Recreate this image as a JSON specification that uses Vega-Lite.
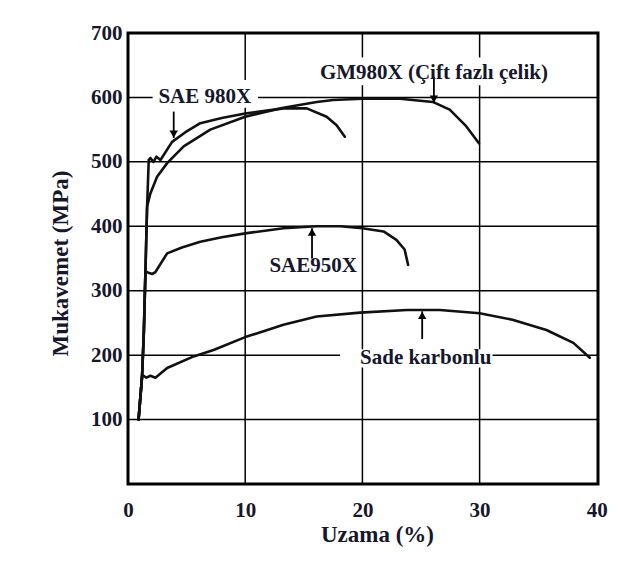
{
  "$schema": "https://vega.github.io/schema/vega-lite/v6.json",
  "width": 470,
  "height": 451,
  "autosize": {"type": "none"},
  "padding": {"left": 128, "top": 33, "right": 41, "bottom": 102},
  "background": "white",
  "config": {
    "view": {"stroke": "black", "strokeWidth": 3},
    "font": "Liberation Serif"
  },
  "datasets": {
    "gridx": [{"x": 10}, {"x": 20}, {"x": 30}],
    "gridy": [{"y": 100}, {"y": 200}, {"y": 300}, {"y": 400}, {"y": 500}, {"y": 600}],
    "curves": [
      {"steel": "GM980X", "x": 0.9, "y": 100}, {"steel": "GM980X", "x": 1.2, "y": 167}, {"steel": "GM980X", "x": 1.35, "y": 235}, {"steel": "GM980X", "x": 1.49, "y": 332}, {"steel": "GM980X", "x": 1.63, "y": 431}, {"steel": "GM980X", "x": 1.91, "y": 451}, {"steel": "GM980X", "x": 2.48, "y": 477}, {"steel": "GM980X", "x": 3.34, "y": 498}, {"steel": "GM980X", "x": 4.75, "y": 524}, {"steel": "GM980X", "x": 7.02, "y": 550}, {"steel": "GM980X", "x": 10, "y": 570}, {"steel": "GM980X", "x": 13.26, "y": 584}, {"steel": "GM980X", "x": 16.1, "y": 593}, {"steel": "GM980X", "x": 17.5, "y": 596}, {"steel": "GM980X", "x": 20, "y": 598}, {"steel": "GM980X", "x": 23.2, "y": 598}, {"steel": "GM980X", "x": 26.0, "y": 593}, {"steel": "GM980X", "x": 27.45, "y": 581}, {"steel": "GM980X", "x": 28.87, "y": 555}, {"steel": "GM980X", "x": 29.94, "y": 529},
      {"steel": "SAE 980X", "x": 0.9, "y": 100}, {"steel": "SAE 980X", "x": 1.2, "y": 167}, {"steel": "SAE 980X", "x": 1.35, "y": 235}, {"steel": "SAE 980X", "x": 1.49, "y": 332}, {"steel": "SAE 980X", "x": 1.63, "y": 431}, {"steel": "SAE 980X", "x": 1.77, "y": 503}, {"steel": "SAE 980X", "x": 1.91, "y": 506}, {"steel": "SAE 980X", "x": 2.17, "y": 500}, {"steel": "SAE 980X", "x": 2.43, "y": 508}, {"steel": "SAE 980X", "x": 2.77, "y": 503}, {"steel": "SAE 980X", "x": 3.76, "y": 531}, {"steel": "SAE 980X", "x": 4.9, "y": 546}, {"steel": "SAE 980X", "x": 6.17, "y": 560}, {"steel": "SAE 980X", "x": 8, "y": 568}, {"steel": "SAE 980X", "x": 10, "y": 575}, {"steel": "SAE 980X", "x": 13.26, "y": 583}, {"steel": "SAE 980X", "x": 15.25, "y": 583}, {"steel": "SAE 980X", "x": 16.95, "y": 570}, {"steel": "SAE 980X", "x": 17.8, "y": 557}, {"steel": "SAE 980X", "x": 18.5, "y": 539},
      {"steel": "SAE950X", "x": 0.9, "y": 100}, {"steel": "SAE950X", "x": 1.2, "y": 167}, {"steel": "SAE950X", "x": 1.35, "y": 235}, {"steel": "SAE950X", "x": 1.49, "y": 330}, {"steel": "SAE950X", "x": 1.74, "y": 328}, {"steel": "SAE950X", "x": 2.08, "y": 326}, {"steel": "SAE950X", "x": 2.34, "y": 329}, {"steel": "SAE950X", "x": 3.34, "y": 358}, {"steel": "SAE950X", "x": 4.6, "y": 367}, {"steel": "SAE950X", "x": 6.17, "y": 376}, {"steel": "SAE950X", "x": 8, "y": 383}, {"steel": "SAE950X", "x": 10, "y": 389}, {"steel": "SAE950X", "x": 13.26, "y": 397}, {"steel": "SAE950X", "x": 16.1, "y": 400}, {"steel": "SAE950X", "x": 18.1, "y": 400}, {"steel": "SAE950X", "x": 20, "y": 397}, {"steel": "SAE950X", "x": 21.8, "y": 392}, {"steel": "SAE950X", "x": 22.9, "y": 379}, {"steel": "SAE950X", "x": 23.6, "y": 364}, {"steel": "SAE950X", "x": 23.9, "y": 340},
      {"steel": "Sade karbonlu", "x": 0.9, "y": 100}, {"steel": "Sade karbonlu", "x": 1.2, "y": 167}, {"steel": "Sade karbonlu", "x": 1.32, "y": 168}, {"steel": "Sade karbonlu", "x": 1.57, "y": 165}, {"steel": "Sade karbonlu", "x": 1.91, "y": 168}, {"steel": "Sade karbonlu", "x": 2.34, "y": 165}, {"steel": "Sade karbonlu", "x": 3.34, "y": 180}, {"steel": "Sade karbonlu", "x": 5.6, "y": 198}, {"steel": "Sade karbonlu", "x": 7.3, "y": 208}, {"steel": "Sade karbonlu", "x": 10, "y": 228}, {"steel": "Sade karbonlu", "x": 13.26, "y": 247}, {"steel": "Sade karbonlu", "x": 16.1, "y": 260}, {"steel": "Sade karbonlu", "x": 19.8, "y": 266}, {"steel": "Sade karbonlu", "x": 23.8, "y": 270}, {"steel": "Sade karbonlu", "x": 26.6, "y": 270}, {"steel": "Sade karbonlu", "x": 30, "y": 265}, {"steel": "Sade karbonlu", "x": 32.8, "y": 255}, {"steel": "Sade karbonlu", "x": 35.7, "y": 239}, {"steel": "Sade karbonlu", "x": 38, "y": 219}, {"steel": "Sade karbonlu", "x": 39.4, "y": 196}
    ],
    "labels": [
      {"label": "SAE 980X", "x": 6.55, "y": 601, "bx1": 2.1, "bx2": 11.1, "by1": 584, "by2": 627},
      {"label": "GM980X (Çift fazlı çelik)", "x": 26.1, "y": 637.5, "bx1": 16.0, "bx2": 36.3, "by1": 619, "by2": 662},
      {"label": "SAE950X", "x": 15.8, "y": 337.6, "bx1": 12.0, "bx2": 19.6, "by1": 326, "by2": 350},
      {"label": "Sade karbonlu", "x": 25.4, "y": 195.5, "bx1": 18.1, "bx2": 31.1, "by1": 181, "by2": 209}
    ],
    "arrows": [
      {"x": 3.9, "tail": 578, "tip": 537, "dir": "down"},
      {"x": 26.1, "tail": 632, "tip": 591, "dir": "down"},
      {"x": 15.7, "tail": 350, "tip": 397, "dir": "up"},
      {"x": 25.1, "tail": 225, "tip": 268, "dir": "up"}
    ]
  },
  "layer": [
    {
      "data": {"name": "gridx"},
      "mark": {"type": "rule", "stroke": "black", "strokeWidth": 1.5},
      "encoding": {
        "x": {
          "field": "x", "type": "quantitative",
          "scale": {"domain": [0, 40.1], "zero": false, "nice": false},
          "axis": {
            "values": [0, 10, 20, 30, 40], "grid": false, "domain": false, "ticks": false,
            "labelFontSize": 21, "labelFontWeight": "bold", "labelColor": "#16162c", "labelFont": "Liberation Serif",
            "labelPadding": 15, "labelFlush": false, "labelOverlap": false,
            "title": "Uzama (%)", "titleFontSize": 23, "titleFontWeight": "bold", "titleColor": "#16162c", "titleFont": "Liberation Serif",
            "titleX": 249, "titleY": 50, "titleBaseline": "middle", "titleAlign": "center"
          }
        }
      }
    },
    {
      "data": {"name": "gridy"},
      "mark": {"type": "rule", "stroke": "black", "strokeWidth": 1.5},
      "encoding": {
        "y": {
          "field": "y", "type": "quantitative",
          "scale": {"domain": [0, 700], "zero": false, "nice": false},
          "axis": {
            "values": [100, 200, 300, 400, 500, 600, 700], "grid": false, "domain": false, "ticks": false,
            "labelFontSize": 21, "labelFontWeight": "bold", "labelColor": "#16162c", "labelFont": "Liberation Serif",
            "labelPadding": 6, "labelFlush": false, "labelOverlap": false,
            "title": "Mukavemet (MPa)", "titleFontSize": 23, "titleFontWeight": "bold", "titleColor": "#16162c", "titleFont": "Liberation Serif",
            "titleX": -68, "titleY": 230, "titleAngle": -90, "titleBaseline": "middle", "titleAlign": "center"
          }
        }
      }
    },
    {
      "data": {"name": "labels"},
      "mark": {"type": "rect", "fill": "white", "stroke": null},
      "encoding": {
        "x": {"field": "bx1", "type": "quantitative"},
        "x2": {"field": "bx2"},
        "y": {"field": "by1", "type": "quantitative"},
        "y2": {"field": "by2"}
      }
    },
    {
      "data": {"name": "curves"},
      "mark": {"type": "line", "stroke": "#111111", "strokeWidth": 2.6, "strokeJoin": "round", "strokeCap": "round"},
      "encoding": {
        "x": {"field": "x", "type": "quantitative"},
        "y": {"field": "y", "type": "quantitative"},
        "detail": {"field": "steel", "type": "nominal"}
      }
    },
    {
      "data": {"name": "arrows"},
      "mark": {"type": "rule", "stroke": "black", "strokeWidth": 1.8},
      "encoding": {
        "x": {"field": "x", "type": "quantitative"},
        "y": {"field": "tail", "type": "quantitative"},
        "y2": {"field": "tip"}
      }
    },
    {
      "data": {"name": "arrows"},
      "transform": [{"filter": "datum.dir === 'down'"}],
      "mark": {"type": "point", "shape": "triangle-down", "filled": true, "fill": "black", "stroke": null, "size": 70, "opacity": 1, "yOffset": -4},
      "encoding": {
        "x": {"field": "x", "type": "quantitative"},
        "y": {"field": "tip", "type": "quantitative"}
      }
    },
    {
      "data": {"name": "arrows"},
      "transform": [{"filter": "datum.dir === 'up'"}],
      "mark": {"type": "point", "shape": "triangle-up", "filled": true, "fill": "black", "stroke": null, "size": 70, "opacity": 1, "yOffset": 4},
      "encoding": {
        "x": {"field": "x", "type": "quantitative"},
        "y": {"field": "tip", "type": "quantitative"}
      }
    },
    {
      "data": {"name": "labels"},
      "mark": {"type": "text", "font": "Liberation Serif", "fontWeight": "bold", "fontSize": 21, "color": "#16162c", "align": "center", "baseline": "middle"},
      "encoding": {
        "x": {"field": "x", "type": "quantitative"},
        "y": {"field": "y", "type": "quantitative"},
        "text": {"field": "label", "type": "nominal"}
      }
    }
  ]
}
